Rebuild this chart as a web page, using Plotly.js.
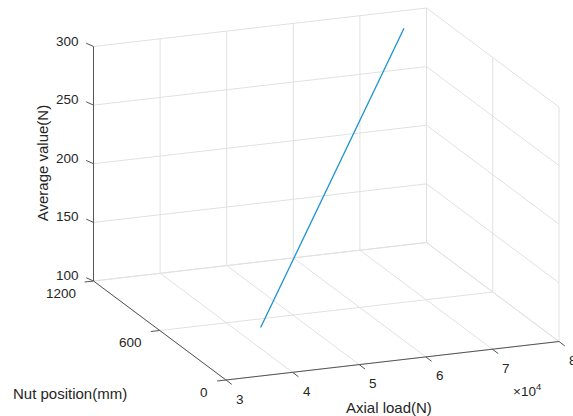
<!DOCTYPE html>
<html>
<head>
<meta charset="utf-8">
<script src="https://cdn.plot.ly/plotly-3.0.1.min.js"></script>
<style>
  html, body { margin: 0; padding: 0; background: #fff; }
  #chart { width: 573px; height: 416px; }
</style>
</head>
<body>
<div id="chart"></div>
<script>
// Measured trace: average value against axial load along the nut travel
const axialLoad    = [38650, 44000, 50000, 56000, 62000, 68000, 74400];
const nutPosition  = [208, 336, 480, 624, 768, 912, 1066];
const averageValue = [124.4, 150.0, 178.8, 207.6, 236.3, 265.1, 295.8];

// Axis limits and ticks
const xLim = [30000, 80000];
const yLim = [0, 1200];
const zLim = [100, 300];
const xTicks = [30000, 40000, 50000, 60000, 70000, 80000];
const xTickText = ['3', '4', '5', '6', '7', '8'];
const yTicks = [0, 600, 1200];
const yTickText = ['0', '600', '1200'];
const zTicks = [100, 150, 200, 250, 300];
const zTickText = ['100', '150', '200', '250', '300'];

// View transform: orthographic 3D box drawn on a pixel-sized 2D canvas.
// Screen position of the (xmin, ymin, zmin) corner and the screen vectors
// spanned by each full axis range.
const view = {
  origin: [226, 380],
  ex: [333, -38.5],
  ey: [-132.5, -99],
  ez: [0, -234.5]
};
function project(x, y, z) {
  const u = (x - xLim[0]) / (xLim[1] - xLim[0]);
  const v = (y - yLim[0]) / (yLim[1] - yLim[0]);
  const w = (z - zLim[0]) / (zLim[1] - zLim[0]);
  return [
    view.origin[0] + u * view.ex[0] + v * view.ey[0] + w * view.ez[0],
    view.origin[1] + u * view.ex[1] + v * view.ey[1] + w * view.ez[1]
  ];
}

// Build a polyline trace (segments separated by nulls) from 3D segment list
function segTrace(segs, color, width) {
  const xs = [], ys = [];
  segs.forEach(([a, b]) => {
    const p = project(...a), q = project(...b);
    xs.push(p[0], q[0], null);
    ys.push(p[1], q[1], null);
  });
  return { type: 'scatter', mode: 'lines', x: xs, y: ys,
           line: { color: color, width: width }, hoverinfo: 'skip', showlegend: false };
}

const GRID = '#e1e1e1';
const AXIS = '#555555';
const TXT = '#262626';

// Grid on the back wall (y = ymax), right wall (x = xmax) and floor (z = zmin)
const gridSegs = [];
xTicks.forEach(x => gridSegs.push([[x, yLim[1], zLim[0]], [x, yLim[1], zLim[1]]]));
zTicks.forEach(z => gridSegs.push([[xLim[0], yLim[1], z], [xLim[1], yLim[1], z]]));
zTicks.forEach(z => gridSegs.push([[xLim[1], yLim[0], z], [xLim[1], yLim[1], z]]));
yTicks.forEach(y => gridSegs.push([[xLim[1], y, zLim[0]], [xLim[1], y, zLim[1]]]));
xTicks.forEach(x => gridSegs.push([[x, yLim[0], zLim[0]], [x, yLim[1], zLim[0]]]));
yTicks.forEach(y => gridSegs.push([[xLim[0], y, zLim[0]], [xLim[1], y, zLim[0]]]));

// Axis lines
const axisSegs = [
  [[xLim[0], yLim[0], zLim[0]], [xLim[1], yLim[0], zLim[0]]],
  [[xLim[0], yLim[0], zLim[0]], [xLim[0], yLim[1], zLim[0]]],
  [[xLim[0], yLim[1], zLim[0]], [xLim[0], yLim[1], zLim[1]]]
];

// Tick marks: screen-space offsets (px) from the axis point
const tickDirX = [5.8, 4.4];
const tickDirY = [-8.9, 1.0];
const tickDirZ = [-7.3, -3.3];
const tx = [], ty = [];
function addTick(p, d) { tx.push(p[0], p[0] + d[0], null); ty.push(p[1], p[1] + d[1], null); }
xTicks.forEach(x => addTick(project(x, yLim[0], zLim[0]), tickDirX));
yTicks.forEach(y => addTick(project(xLim[0], y, zLim[0]), tickDirY));
zTicks.forEach(z => addTick(project(xLim[0], yLim[1], z), tickDirZ));
const tickTrace = { type: 'scatter', mode: 'lines', x: tx, y: ty,
  line: { color: AXIS, width: 1 }, hoverinfo: 'skip', showlegend: false };

// Data line
const dataX = [], dataY = [];
axialLoad.forEach((f, i) => {
  const p = project(f, nutPosition[i], averageValue[i]);
  dataX.push(p[0]); dataY.push(p[1]);
});
const dataTrace = { type: 'scatter', mode: 'lines', x: dataX, y: dataY,
  line: { color: '#1b93d3', width: 1.3 }, hoverinfo: 'skip', showlegend: false };

// Labels
const tickFont = { family: 'Liberation Sans, Arial, sans-serif', size: 13.5, color: TXT };
const titleFont = { family: 'Liberation Sans, Arial, sans-serif', size: 15, color: TXT };
const ann = [];
function label(p, text, opts) {
  ann.push(Object.assign({ x: p[0], y: p[1], xref: 'x', yref: 'y', text: text,
    showarrow: false, font: tickFont, xanchor: 'center', yanchor: 'middle' }, opts));
}
xTicks.forEach((x, i) => label(project(x, yLim[0], zLim[0]), xTickText[i],
  { xshift: 14, yshift: -19 }));
yTicks.forEach((y, i) => label(project(xLim[0], y, zLim[0]), yTickText[i],
  { xanchor: 'right', xshift: -16, yshift: -12 }));
zTicks.forEach((z, i) => label(project(xLim[0], yLim[1], z), zTickText[i],
  { xanchor: 'right', xshift: -13, yshift: 5.5 }));
label(project(xLim[1], yLim[0], zLim[0]), '×10<sup>4</sup>', { xshift: -32, yshift: -48 });
label(project((xLim[0] + xLim[1]) / 2, yLim[0], zLim[0]), 'Axial load(N)',
  { font: titleFont, xshift: -4, yshift: -47 });
label(project(xLim[0], (yLim[0] + yLim[1]) / 2, zLim[0]), 'Nut position(mm)',
  { font: titleFont, xshift: -90, yshift: -63 });
label(project(xLim[0], yLim[1], (zLim[0] + zLim[1]) / 2), 'Average value(N)',
  { font: titleFont, textangle: -90, xshift: -51, yshift: 0 });

const layout = {
  width: 573,
  height: 416,
  margin: { l: 0, r: 0, t: 0, b: 0 },
  paper_bgcolor: '#ffffff',
  plot_bgcolor: '#ffffff',
  showlegend: false,
  xaxis: { range: [0, 573], visible: false, fixedrange: true },
  yaxis: { range: [416, 0], visible: false, fixedrange: true },
  annotations: ann
};

Plotly.newPlot('chart', [
  segTrace(gridSegs, GRID, 1),
  segTrace(axisSegs, AXIS, 1),
  tickTrace,
  dataTrace
], layout, { displayModeBar: false, staticPlot: true });
</script>
</body>
</html>
